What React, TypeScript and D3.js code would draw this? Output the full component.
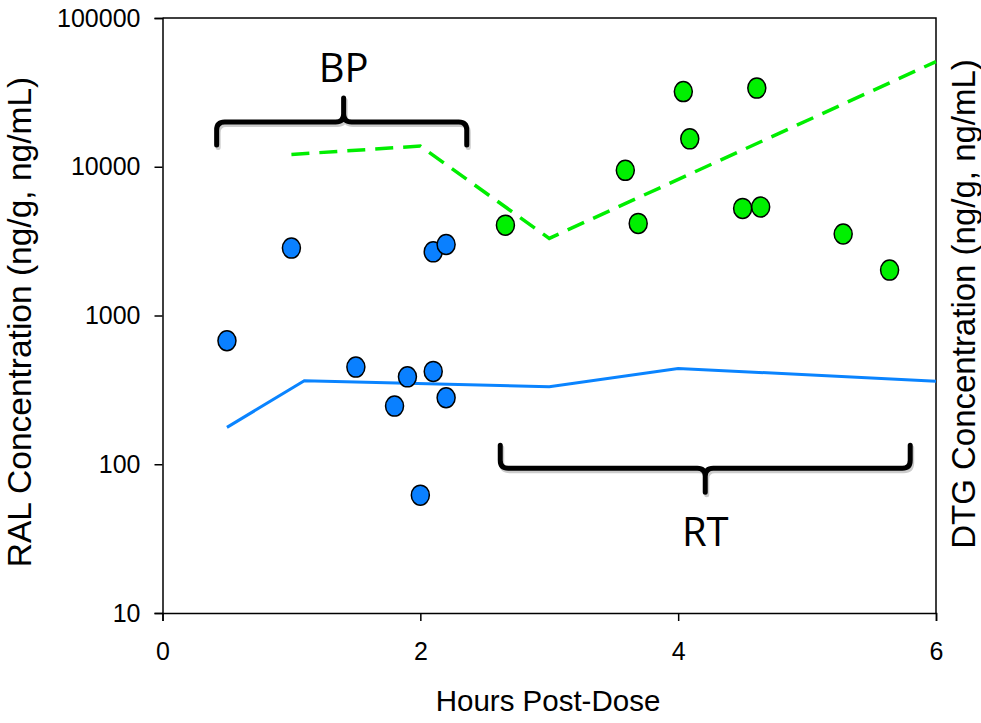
import React, {useRef, useEffect} from "react";
import * as d3 from "d3";

// RAL (blue) observations
const ralHours = [0.5, 1.0, 1.5, 1.8, 1.9, 2.0, 2.1, 2.1, 2.2, 2.2];
const ralConc = [676, 2840, 450, 246, 387, 62, 421, 2680, 280, 3000];

// RAL model line
const ralLineHours = [0.5, 1.1, 3.0, 4.0, 6.0];
const ralLineConc = [177, 364, 332, 441, 362];

// DTG (green) observations
const dtgHours = [2.66, 3.59, 3.69, 4.04, 4.09, 4.5, 4.61, 4.64, 5.28, 5.64];
const dtgConc = [4050, 9460, 4160, 32000, 15400, 5250, 33800, 5360, 3530, 2020];

// DTG model line (dashed)
const dtgLineHours = [1.0, 2.0, 3.0, 6.0];
const dtgLineConc = [12100, 13770, 3300, 50900];

const xTicks = [0, 2, 4, 6];
const yTicks = [10, 100, 1000, 10000, 100000];

// brackets: [start, middle, end] in hours, level in concentration
const brackets = [
	{label: "BP", x0: 0.42, xm: 1.405, x1: 2.36, level: 20000, dir: 1},
	{label: "RT", x0: 2.62, xm: 4.21, x1: 5.8, level: 94, dir: -1}
];

const App = () => {

	const ref = useRef(null);

	let layout = {"width": 981,
				  "height": 723,
				  "left": 162.5,
				  "right": 936,
				  "top": 18,
				  "bottom": 613};

	useEffect(() => {

		let svg = d3.select(ref.current);
		svg.selectAll("*").remove();

		let xScale = d3.scaleLinear()
						.domain([0, 6])
						.range([layout.left, layout.right]);

		let yScale = d3.scaleLog()
						.domain([10, 100000])
						.range([layout.bottom, layout.top]);

		let font = "Liberation Sans, Arial, Helvetica, sans-serif";

		// frame
		svg.append("path")
			.attr("d", `M${layout.left},${layout.top}H${layout.right}V${layout.bottom}`)
			.attr("fill", "none")
			.attr("stroke", "black")
			.attr("stroke-width", 1.5);

		let yAxis = svg.append("g")
						.attr("transform", `translate(${layout.left}, 0)`)
						.call(d3.axisLeft(yScale).tickValues(yTicks).tickFormat(d3.format("d")).tickSize(8).tickPadding(14));

		let xAxis = svg.append("g")
						.attr("transform", `translate(0, ${layout.bottom})`)
						.call(d3.axisBottom(xScale).tickValues(xTicks).tickFormat(d3.format("d")).tickSize(8).tickPadding(21));

		for (let ax of [xAxis, yAxis]) {
			ax.select(".domain").attr("stroke-width", 1.5);
			ax.selectAll(".tick line").attr("stroke-width", 1.5);
			ax.selectAll("text")
				.attr("font-family", font)
				.attr("font-size", 25)
				.attr("fill", "black");
		}

		// axis titles
		svg.append("text")
			.attr("x", 548)
			.attr("y", 711)
			.attr("text-anchor", "middle")
			.attr("font-family", font)
			.attr("font-size", 29.5)
			.text("Hours Post-Dose");

		svg.append("text")
			.attr("transform", "translate(31, 322) rotate(-90)")
			.attr("text-anchor", "middle")
			.attr("font-family", font)
			.attr("font-size", 33.5)
			.text("RAL Concentration (ng/g, ng/mL)");

		svg.append("text")
			.attr("transform", "translate(975, 304) rotate(-90)")
			.attr("text-anchor", "middle")
			.attr("font-family", font)
			.attr("font-size", 33)
			.text("DTG Concentration (ng/g, ng/mL)");

		// lines
		let line = d3.line()
					.x(d => xScale(d[0]))
					.y(d => yScale(d[1]));

		svg.append("path")
			.datum(dtgLineHours.map((h, i) => [h, dtgLineConc[i]]))
			.attr("d", line)
			.attr("fill", "none")
			.attr("stroke", "#00ee00")
			.attr("stroke-width", 3.5)
			.attr("stroke-dasharray", "18 10");

		svg.append("path")
			.datum(ralLineHours.map((h, i) => [h, ralLineConc[i]]))
			.attr("d", line)
			.attr("fill", "none")
			.attr("stroke", "#0a84ff")
			.attr("stroke-width", 3);

		// points
		svg.append("g")
			.selectAll("ellipse")
			.data(ralHours.map((h, i) => [h, ralConc[i]]))
			.join("ellipse")
			.attr("cx", d => xScale(d[0]))
			.attr("cy", d => yScale(d[1]))
			.attr("rx", 9)
			.attr("ry", 10)
			.attr("fill", "#0a80ff")
			.attr("stroke", "black")
			.attr("stroke-width", 1.5);

		svg.append("g")
			.selectAll("ellipse")
			.data(dtgHours.map((h, i) => [h, dtgConc[i]]))
			.join("ellipse")
			.attr("cx", d => xScale(d[0]))
			.attr("cy", d => yScale(d[1]))
			.attr("rx", 9)
			.attr("ry", 10)
			.attr("fill", "#00f000")
			.attr("stroke", "black")
			.attr("stroke-width", 1.5);

		// brackets
		let arm = 23, tip = 24, r = 8;
		for (let b of brackets) {
			let x0 = xScale(b.x0), xm = xScale(b.xm), x1 = xScale(b.x1);
			let y = yScale(b.level);
			let s = b.dir;
			let d = `M${x0},${y + s * arm} L${x0},${y + s * r} Q${x0},${y} ${x0 + r},${y}` +
					` L${xm - r},${y} Q${xm},${y} ${xm},${y - s * r} L${xm},${y - s * tip}` +
					` M${xm},${y - s * r} Q${xm},${y} ${xm + r},${y}` +
					` L${x1 - r},${y} Q${x1},${y} ${x1},${y + s * r} L${x1},${y + s * arm}`;

			svg.append("path")
				.attr("d", d)
				.attr("fill", "none")
				.attr("stroke", "#cccccc")
				.attr("stroke-width", 5)
				.attr("stroke-linecap", "round")
				.attr("transform", "translate(1.5, 2.5)");

			svg.append("path")
				.attr("d", d)
				.attr("fill", "none")
				.attr("stroke", "black")
				.attr("stroke-width", 5)
				.attr("stroke-linecap", "round");

			svg.append("text")
				.attr("x", xm)
				.attr("y", s > 0 ? y - 40 : y + 78)
				.attr("text-anchor", "middle")
				.attr("font-family", "Open Sans, sans-serif")
				.attr("font-size", 40)
				.text(b.label);
		}

	}, []);

	return (
		<svg ref={ref}
			 width={layout.width}
			 height={layout.height}
			 style={{position: "absolute", left: 0, top: 0, background: "white"}} />
	);
};

export default App;
